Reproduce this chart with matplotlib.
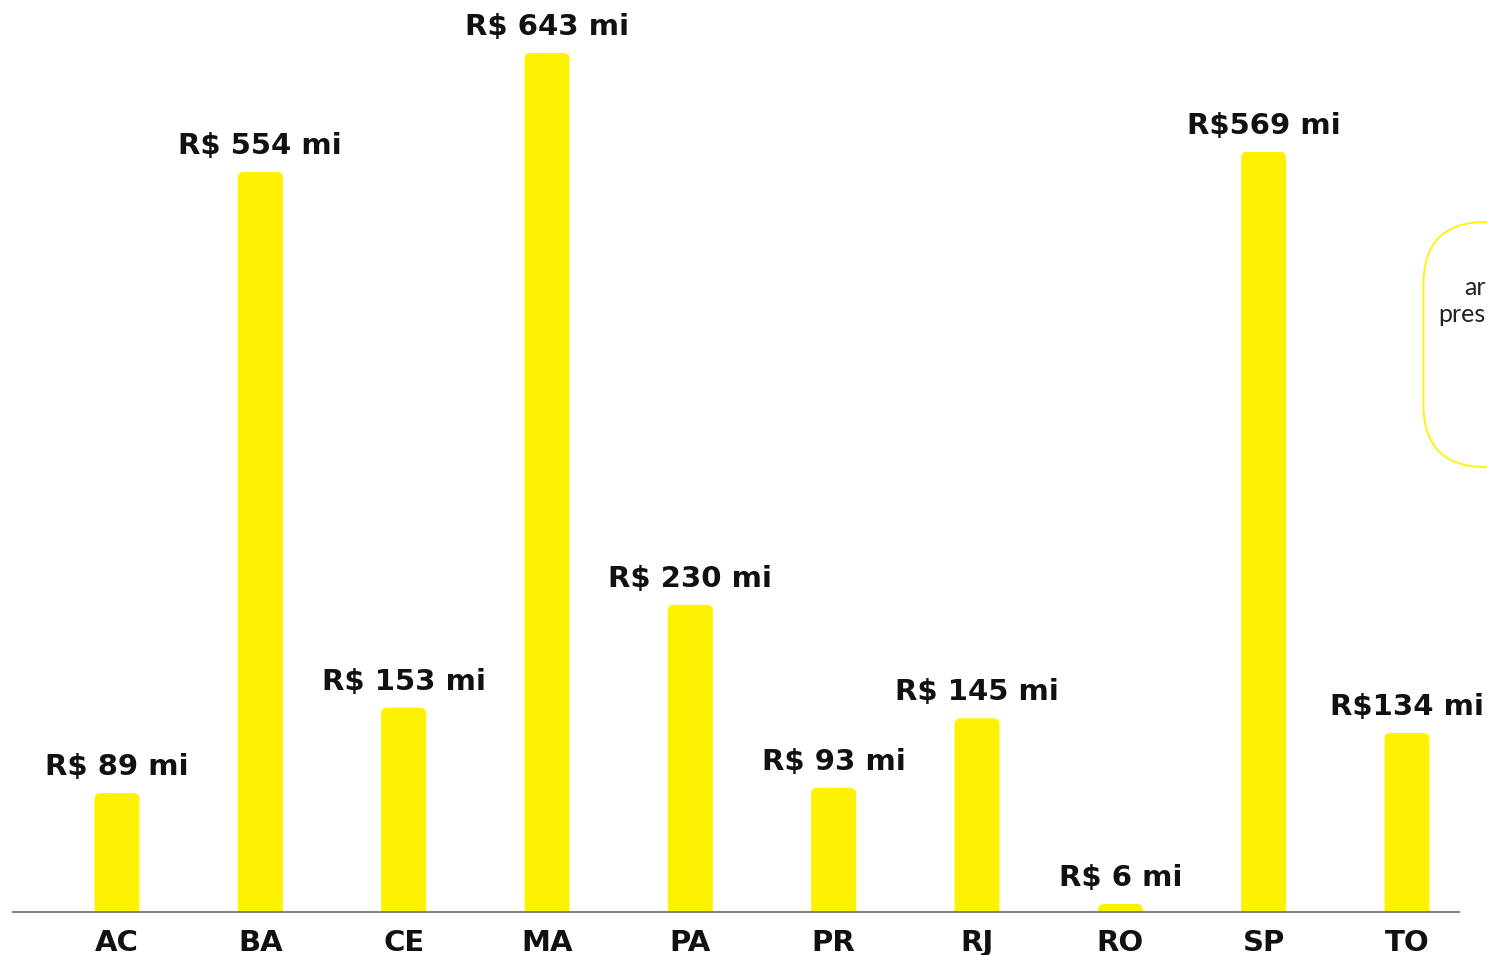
import matplotlib
matplotlib.use('Agg')
import matplotlib.pyplot as plt
from matplotlib.patches import FancyBboxPatch

# Values per state (R$ millions)
states = ['AC', 'BA', 'CE', 'MA', 'PA', 'PR', 'RJ', 'RO', 'SP', 'TO']
values = [89, 554, 153, 643, 230, 93, 145, 6, 569, 134]
labels = ['R$ 89 mi', 'R$ 554 mi', 'R$ 153 mi', 'R$ 643 mi', 'R$ 230 mi',
          'R$ 93 mi', 'R$ 145 mi', 'R$ 6 mi', 'R$569 mi', 'R$134 mi']
note_lines = ['ar', 'pres']

YELLOW = '#FFF200'
INK = '#111111'
W, H = 1487, 955

fig = plt.figure(figsize=(W / 100, H / 100), dpi=100)
fig.patch.set_facecolor('white')

# side note box, running off the right edge (drawn underneath the bars axes)
ov = fig.add_axes([0, 0, 1, 1])
ov.set_xlim(0, W)
ov.set_ylim(H, 0)
ov.axis('off')
note = FancyBboxPatch((1423.5, 222), 260, 245,
                      boxstyle='round,pad=0,rounding_size=62',
                      facecolor='none', edgecolor=YELLOW, linewidth=1.3)
ov.add_patch(note)
for k, line in enumerate(note_lines):
    ov.text(W - 1, 287 + 27 * k, line, fontsize=18, color='#222222', va='center',
            ha='right', family='Lato', fontweight='normal')

# main axes laid out in pixel terms
x_left, x_right, base_px = 13, 1459, 912
ax = fig.add_axes([x_left / W, (H - base_px) / H, (x_right - x_left) / W, base_px / H])
ax.patch.set_visible(False)
step_px = (1407 - 117) / 9
xmin = (x_left - 117) / step_px
xmax = (x_right - 117) / step_px
px_per_unit = 859 / 643
ax.set_xlim(xmin, xmax)
ax.set_ylim(0, base_px / px_per_unit)

bar_w = 45 / step_px
aspect = step_px / px_per_unit
for i, v in enumerate(values):
    # start below zero so only the top corners show as rounded
    patch = FancyBboxPatch((i - bar_w / 2, -6), bar_w, v + 6,
                           boxstyle='round,pad=0,rounding_size=%f' % (6 / step_px),
                           mutation_aspect=aspect, facecolor=YELLOW,
                           edgecolor='none', zorder=2)
    ax.add_patch(patch)
    ax.annotate(labels[i], (i, v), xytext=(0, 13), textcoords='offset points',
                ha='center', va='baseline', fontsize=21, fontweight='bold',
                color=INK, family='DejaVu Sans')

ax.axhline(0, color='#808080', linewidth=1.4, clip_on=False, zorder=3)
ax.set_xticks(range(len(states)))
ax.set_xticklabels(states, fontsize=21, fontweight='bold', color=INK, family='DejaVu Sans')
ax.tick_params(axis='x', length=0, pad=12)
ax.set_yticks([])
for s in ax.spines.values():
    s.set_visible(False)

fig.savefig('out.png', dpi=100, facecolor='white')
